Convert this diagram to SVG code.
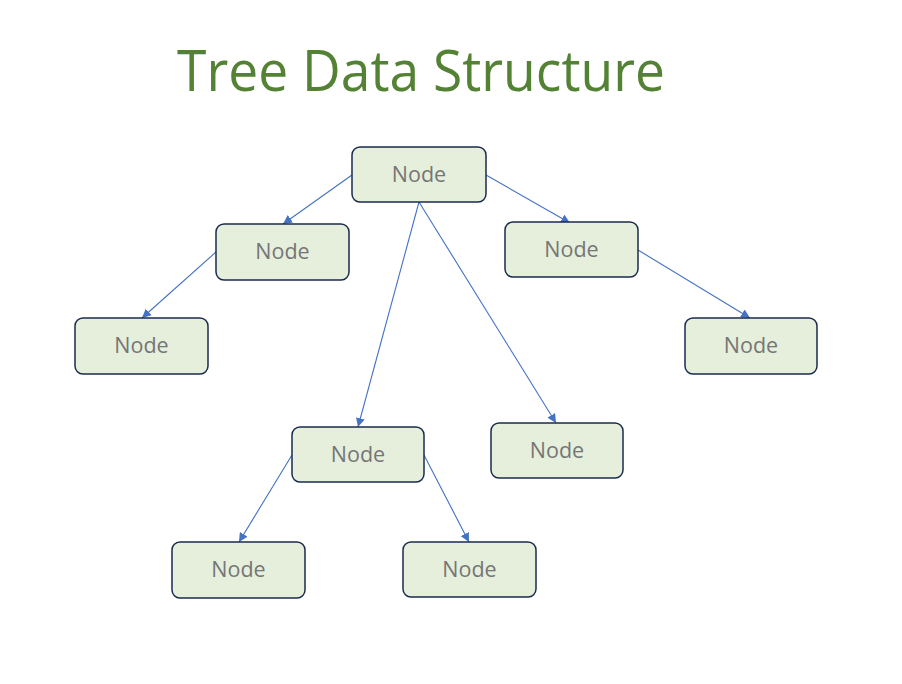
<svg xmlns="http://www.w3.org/2000/svg" width="902" height="684" viewBox="0 0 902 684">
<style>
.box{fill:#e5efdc;stroke:#1b2b4d;stroke-width:1.5}
.lbl{font-family:"Open Sans","Noto Sans",sans-serif;font-size:21.5px;fill:#767676;text-anchor:middle}
.edge{stroke:#4472c4;stroke-width:1.1;fill:none;marker-end:url(#ah)}
</style>
<defs>
<marker id="ah" viewBox="0 0 10 10" refX="10" refY="5" markerWidth="9" markerHeight="9" markerUnits="userSpaceOnUse" orient="auto">
<path d="M0,0 L10,5 L0,10 z" fill="#4472c4"/>
</marker>
</defs>
<rect width="902" height="684" fill="#ffffff"/>
<text x="421" y="91" font-family="'Open Sans','Noto Sans',sans-serif" font-size="56" fill="#548235" text-anchor="middle" textLength="488" lengthAdjust="spacingAndGlyphs">Tree Data Structure</text>
<g id="connectors">
<line class="edge" x1="352" y1="175" x2="283" y2="224"/>
<line class="edge" x1="486" y1="175" x2="570" y2="223"/>
<line class="edge" x1="419" y1="202" x2="358" y2="427"/>
<line class="edge" x1="419" y1="202" x2="556" y2="423"/>
<line class="edge" x1="216" y1="252" x2="142" y2="318"/>
<line class="edge" x1="638" y1="250" x2="750" y2="318"/>
<line class="edge" x1="292" y1="455" x2="239" y2="542"/>
<line class="edge" x1="424" y1="455" x2="469" y2="542"/>
</g>
<g id="root"><rect class="box" x="352" y="147" width="134" height="55" rx="8"/><text class="lbl" x="419" y="182">Node</text></g>
<g id="nodeA"><rect class="box" x="216" y="224" width="133" height="56" rx="8"/><text class="lbl" x="282.5" y="259">Node</text></g>
<g id="nodeB"><rect class="box" x="505" y="222" width="133" height="55" rx="8"/><text class="lbl" x="571.5" y="257">Node</text></g>
<g id="nodeC"><rect class="box" x="75" y="318" width="133" height="56" rx="8"/><text class="lbl" x="141.5" y="353">Node</text></g>
<g id="nodeD"><rect class="box" x="685" y="318" width="132" height="56" rx="8"/><text class="lbl" x="751" y="353">Node</text></g>
<g id="nodeE"><rect class="box" x="292" y="427" width="132" height="55" rx="8"/><text class="lbl" x="358" y="462">Node</text></g>
<g id="nodeF"><rect class="box" x="491" y="423" width="132" height="55" rx="8"/><text class="lbl" x="557" y="458">Node</text></g>
<g id="nodeG"><rect class="box" x="172" y="542" width="133" height="56" rx="8"/><text class="lbl" x="238.5" y="577">Node</text></g>
<g id="nodeH"><rect class="box" x="403" y="542" width="133" height="55" rx="8"/><text class="lbl" x="469.5" y="577">Node</text></g>
</svg>
